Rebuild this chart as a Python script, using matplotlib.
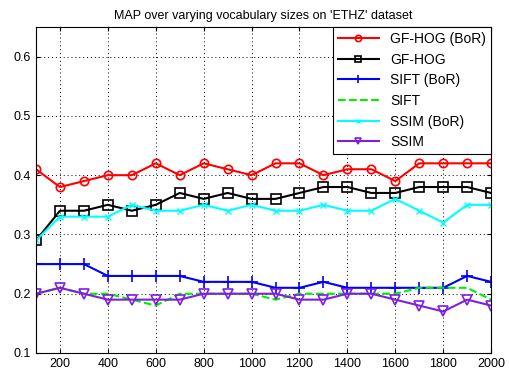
import numpy as np
import matplotlib.pyplot as plt

plt.rcParams['font.family'] = ['Liberation Sans', 'DejaVu Sans']

vocab = [100, 200, 300, 400, 500, 600, 700, 800, 900, 1000,
         1100, 1200, 1300, 1400, 1500, 1600, 1700, 1800, 1900, 2000]

gfhog_bor = [0.41, 0.38, 0.39, 0.40, 0.40, 0.42, 0.40, 0.42, 0.41, 0.40,
             0.42, 0.42, 0.40, 0.41, 0.41, 0.39, 0.42, 0.42, 0.42, 0.42]
gfhog = [0.29, 0.34, 0.34, 0.35, 0.34, 0.35, 0.37, 0.36, 0.37, 0.36,
         0.36, 0.37, 0.38, 0.38, 0.37, 0.37, 0.38, 0.38, 0.38, 0.37]
sift_bor = [0.25, 0.25, 0.25, 0.23, 0.23, 0.23, 0.23, 0.22, 0.22, 0.22,
            0.21, 0.21, 0.22, 0.21, 0.21, 0.21, 0.21, 0.21, 0.23, 0.22]
sift = [0.20, 0.21, 0.20, 0.20, 0.19, 0.18, 0.20, 0.20, 0.20, 0.20,
        0.19, 0.20, 0.20, 0.20, 0.20, 0.20, 0.21, 0.21, 0.21, 0.19]
ssim_bor = [0.29, 0.33, 0.33, 0.33, 0.35, 0.34, 0.34, 0.35, 0.34, 0.35,
            0.34, 0.34, 0.35, 0.34, 0.34, 0.36, 0.34, 0.32, 0.35, 0.35]
ssim = [0.20, 0.21, 0.20, 0.19, 0.19, 0.19, 0.19, 0.20, 0.20, 0.20,
        0.20, 0.19, 0.19, 0.20, 0.20, 0.19, 0.18, 0.17, 0.19, 0.18]

fig = plt.figure(figsize=(5.1, 3.75), dpi=100)
ax = fig.add_axes([0.0706, 0.0587, 0.8924, 0.8693])

ax.plot(vocab, gfhog_bor, '-o', color='red', lw=1.5, ms=6, mfc='none', mew=1.2, label='GF-HOG (BoR)')
ax.plot(vocab, gfhog, '-s', color='black', lw=1.5, ms=6.5, mfc='none', mew=1.2, label='GF-HOG')
ax.plot(vocab, sift_bor, '-+', color='blue', lw=1.5, ms=8, mew=1.2, label='SIFT (BoR)')
ax.plot(vocab, sift, '--', color='#00ee00', lw=1.5, label='SIFT')
ax.plot(vocab, ssim_bor, '-x', color='cyan', lw=1.5, ms=4, mew=1.0, label='SSIM (BoR)')
ax.plot(vocab, ssim, '-v', color='#7f1fdf', lw=1.5, ms=6.5, mfc='none', mew=1.2, label='SSIM')

ax.set_xlim(100, 2000)
ax.set_ylim(0.1, 0.65)
ax.set_xticks(range(200, 2001, 200))
ax.set_yticks([0.1, 0.2, 0.3, 0.4, 0.5, 0.6])
ax.tick_params(direction='in', labelsize=9, length=3, top=True, right=True)
ax.grid(True, linestyle=(0, (1, 3)), color='black', lw=0.7)
ax.set_title("MAP over varying vocabulary sizes on 'ETHZ' dataset", fontsize=9)

leg = ax.legend(loc='upper right', fontsize=10, fancybox=False, framealpha=1,
                edgecolor='black', borderaxespad=0, handlelength=3.0,
                borderpad=0.35, labelspacing=0.48, markerscale=0.75)
leg.get_frame().set_linewidth(0.8)

fig.savefig('out.png', dpi=100)
